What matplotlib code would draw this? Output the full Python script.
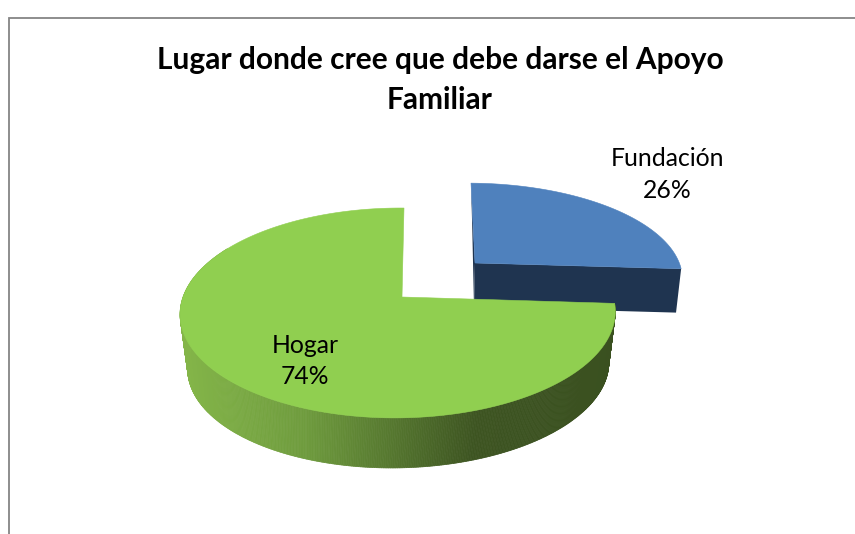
import numpy as np
import matplotlib
matplotlib.use('Agg')
import matplotlib.pyplot as plt
from matplotlib.collections import PolyCollection
from matplotlib.colors import LinearSegmentedColormap
from matplotlib.patches import Polygon

labels = ['Fundación', 'Hogar']
values = [26, 74]
title = 'Lugar donde cree que debe darse el Apoyo\nFamiliar'

plt.rcParams['font.family'] = ['Lato', 'DejaVu Sans']


def rim(thetas, cx, cy, R, H, S, k=0.152, m=0.018):
    """Project angles (clockwise from 12 o'clock) of the tilted disc to pixels."""
    u, v = np.sin(thetas), np.cos(thetas)
    w = 1 + k * v + m * u
    return np.column_stack([cx + (R * u + S * v) / w, cy - H * v / w])


def wedge(start, stop, **geom):
    thetas = np.linspace(start, stop, 200)
    apex = [[geom['cx'], geom['cy']]]
    return np.vstack([apex, rim(thetas, **geom)])


fig = plt.figure(figsize=(8.55, 5.34), dpi=100)
ax = fig.add_axes([0, 0, 1, 1])

split = 2 * np.pi * values[0] / sum(values)

# Fundacion is pulled out of the pie
blue_top = dict(cx=475, cy=263, R=208, H=92, S=-4.6)
blue_low = dict(cx=474, cy=307, R=204, H=90, S=-2)
a_top = rim(np.array([split]), **blue_top)[0]
a_low = rim(np.array([split]), **blue_low)[0]
b_top = rim(np.array([0.0]), **blue_top)[0]
b_low = rim(np.array([0.0]), **blue_low)[0]
dark_blue = '#1F3450'
ax.add_patch(Polygon([b_top, (475, 263), (474, 307), b_low], fc=dark_blue, lw=0, zorder=1))
ax.add_patch(Polygon([(475, 263), a_top, a_low, (474, 307)], fc=dark_blue, lw=0, zorder=1))
ax.add_patch(Polygon(wedge(0, split, **blue_top), fc='#4F81BD', ec='#4F81BD', lw=0.4, zorder=2))

# Hogar: outer wall built from thin strips shaded left to right, then the top face
green_top = dict(cx=402, cy=297, R=215, H=102.5, S=2.3)
green_low = dict(cx=403, cy=350, R=208, H=100, S=6)
side_angles = np.linspace(split, np.radians(300), 500)
upper = rim(side_angles, **green_top)
lower = rim(side_angles, **green_low)
strips = [[upper[i], upper[i + 1], lower[i + 1], lower[i]] for i in range(len(side_angles) - 1)]
shade = LinearSegmentedColormap.from_list(
    'shade', [(0, '#86B84A'), (0.29, '#6F9C3E'), (0.67, '#3D5421'), (1, '#3A5020')])
strip_colors = shade((lower[:-1, 0] - 175) / (620 - 175))
ax.add_collection(PolyCollection(strips, facecolors=strip_colors, edgecolors=strip_colors,
                                 linewidths=0.5, zorder=3))
ax.add_patch(Polygon(wedge(split, 2 * np.pi, **green_top), fc='#90CF50', ec='#90CF50', lw=0.4, zorder=4))

# chart frame, cut off on the right and at the bottom
ax.plot([8.5, 8.5, 855], [534, 17.5, 17.5], color='#858585', lw=1.3, solid_joinstyle='miter', zorder=0)

ax.text(440, 80, title, ha='center', va='center', fontsize=21.5, fontweight='bold',
        linespacing=1.49, color='black', zorder=6)

ax.text(667, 174.5, '%s\n%d%%' % (labels[0], values[0]), ha='center', va='center',
        fontsize=17.8, linespacing=1.45, color='black', zorder=6)
ax.text(305, 361, '%s\n%d%%' % (labels[1], values[1]), ha='center', va='center',
        fontsize=17.8, linespacing=1.45, color='black', zorder=6)

ax.set_xlim(0, 855)
ax.set_ylim(534, 0)
ax.axis('off')
fig.savefig('out.png', dpi=100, facecolor='white')
